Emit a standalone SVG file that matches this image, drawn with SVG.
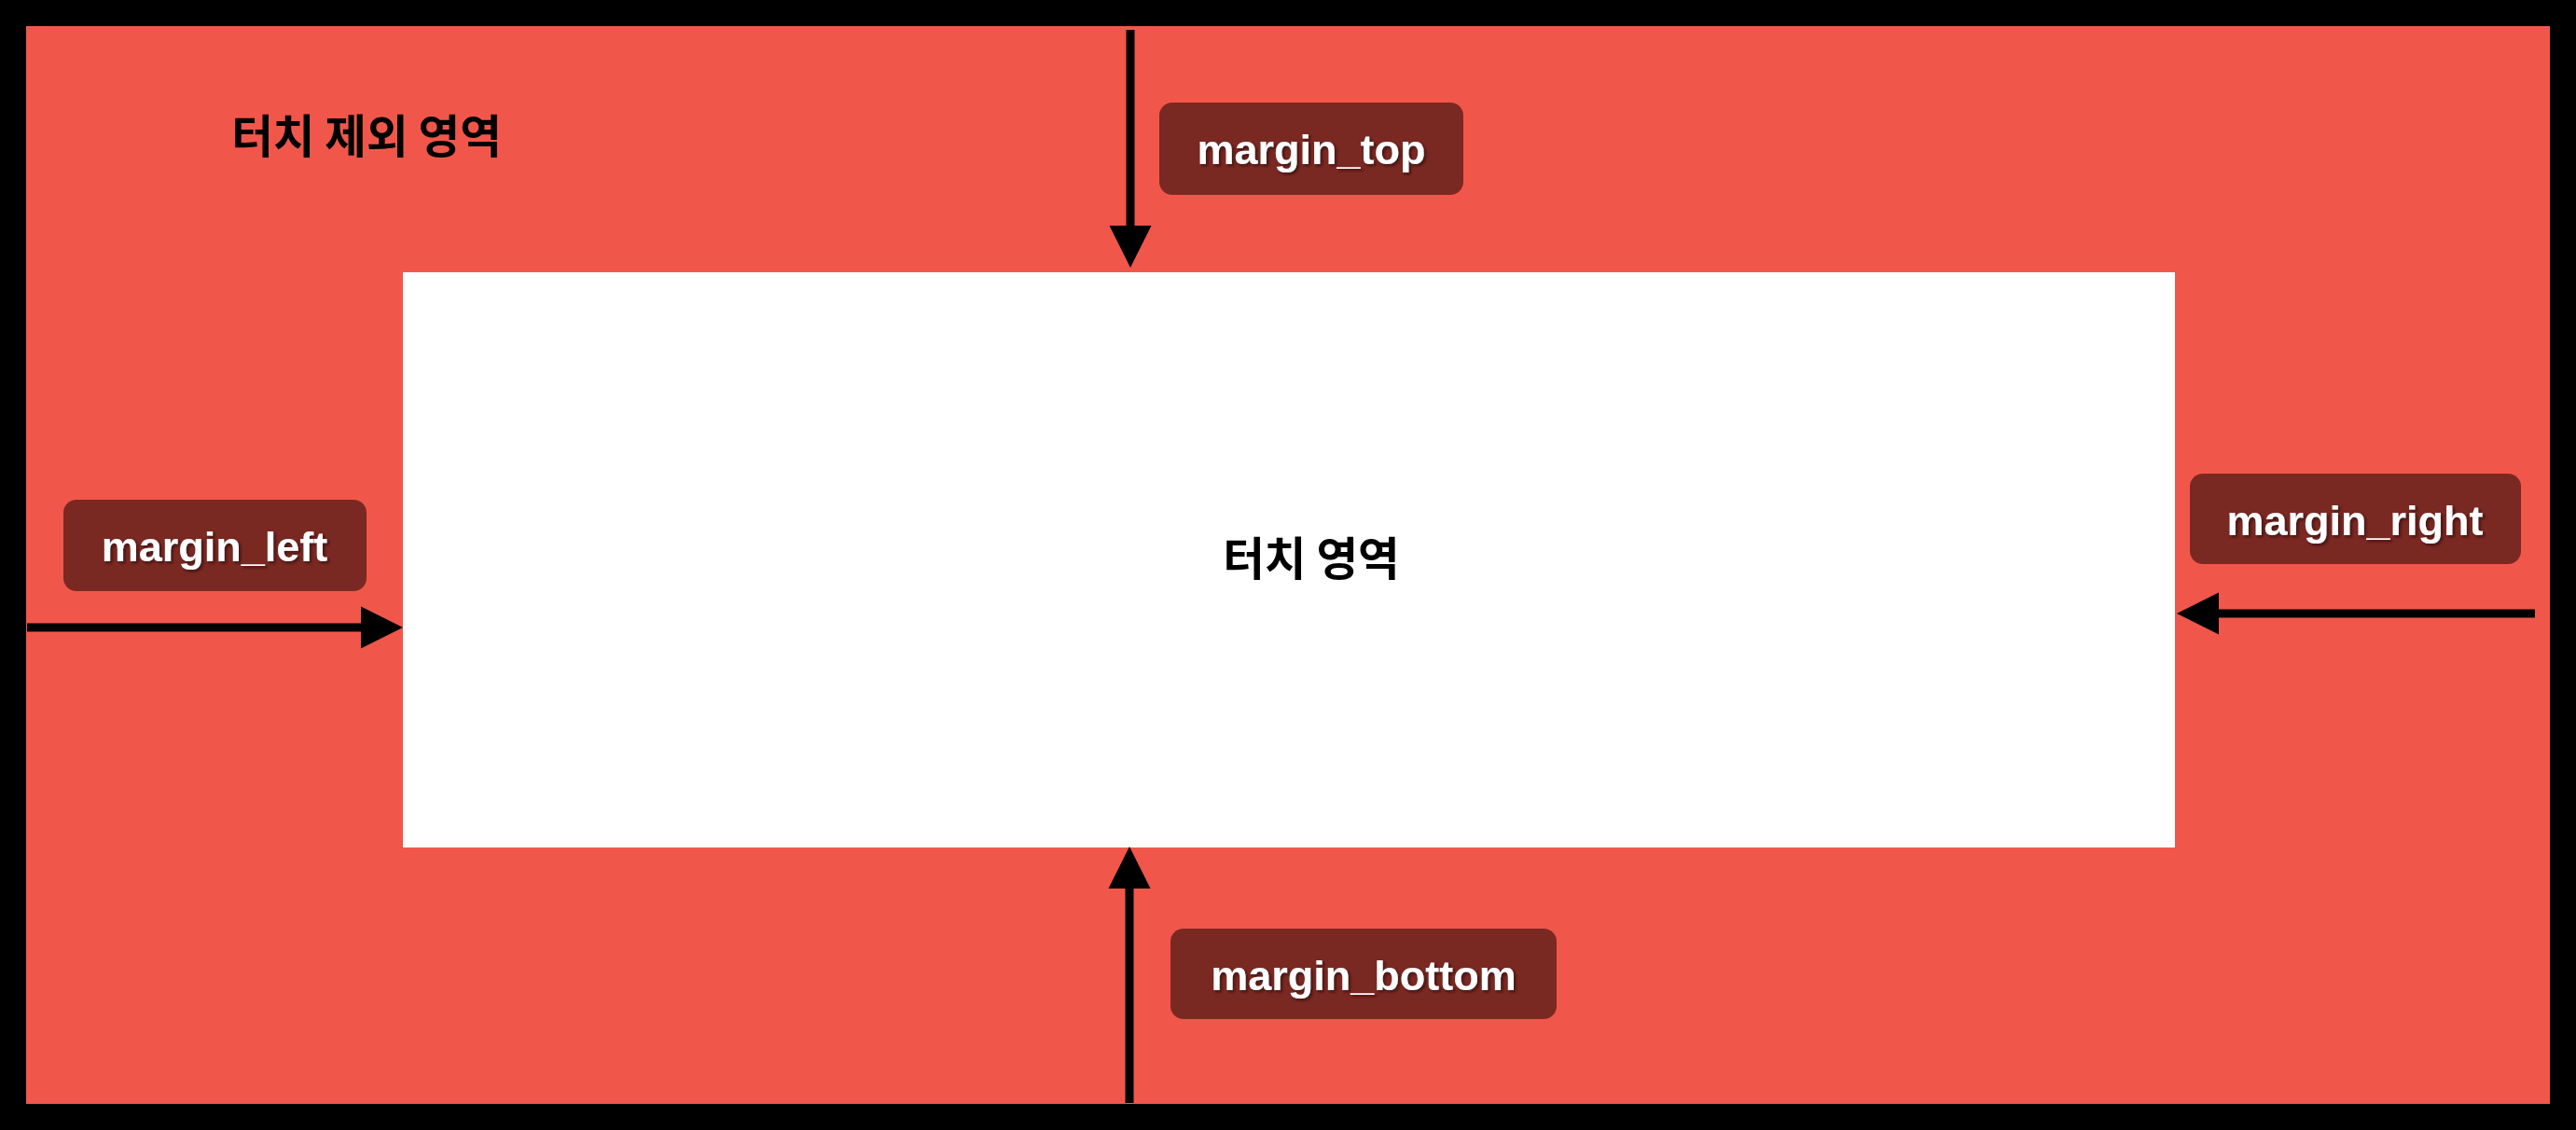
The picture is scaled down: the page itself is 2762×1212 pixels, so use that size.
<svg xmlns="http://www.w3.org/2000/svg" width="2762" height="1212" viewBox="0 0 2762 1212">
<style>
.ko{font-family:"Noto Sans CJK KR","Noto Sans",sans-serif;font-weight:bold;font-size:48.5px;fill:#000;text-anchor:middle}
.lbl{fill:#7A2822}
.lt{font-family:"Liberation Sans",Arial,sans-serif;font-weight:bold;font-size:45px;fill:#fff;text-anchor:middle;filter:url(#sh)}
.arr{stroke:#000;stroke-width:9;fill:none;marker-end:url(#ah)}
</style>
<defs>
<marker id="ah" markerUnits="userSpaceOnUse" markerWidth="46" markerHeight="46" refX="0" refY="22.5" orient="auto" viewBox="0 0 46 45">
<path d="M0,0 L45,22.5 L0,45 z" fill="#000"/>
</marker>
<filter id="sh" x="-10%" y="-30%" width="120%" height="160%">
<feDropShadow dx="2" dy="2" stdDeviation="1.5" flood-color="#2a0a08" flood-opacity="0.8"/>
</filter>
</defs>
<rect x="0" y="0" width="2762" height="1212" fill="#000"/>
<g id="exclusion-area">
<rect x="28" y="28" width="2706" height="1156" fill="#F0574A"/>
<text class="ko" x="393" y="164">터치 제외 영역</text>
</g>
<g id="touch-area">
<rect x="432" y="292" width="1900" height="617" fill="#fff"/>
<text class="ko" x="1406" y="617">터치 영역</text>
</g>
<g id="connectors">
<line class="arr" x1="1212" y1="32" x2="1212" y2="242"/>
<line class="arr" x1="29" y1="673" x2="387" y2="673"/>
<line class="arr" x1="2718" y1="658" x2="2379" y2="658"/>
<line class="arr" x1="1211" y1="1183" x2="1211" y2="953"/>
</g>
<g id="margin_top">
<rect class="lbl" x="1243" y="110" width="326" height="99" rx="14"/>
<text class="lt" x="1406" y="176">margin_top</text>
</g>
<g id="margin_left">
<rect class="lbl" x="68" y="536" width="325" height="98" rx="14"/>
<text class="lt" x="230" y="602">margin_left</text>
</g>
<g id="margin_right">
<rect class="lbl" x="2348" y="508" width="355" height="97" rx="14"/>
<text class="lt" x="2525" y="574">margin_right</text>
</g>
<g id="margin_bottom">
<rect class="lbl" x="1255" y="996" width="414" height="97" rx="14"/>
<text class="lt" x="1462" y="1062">margin_bottom</text>
</g>
</svg>
